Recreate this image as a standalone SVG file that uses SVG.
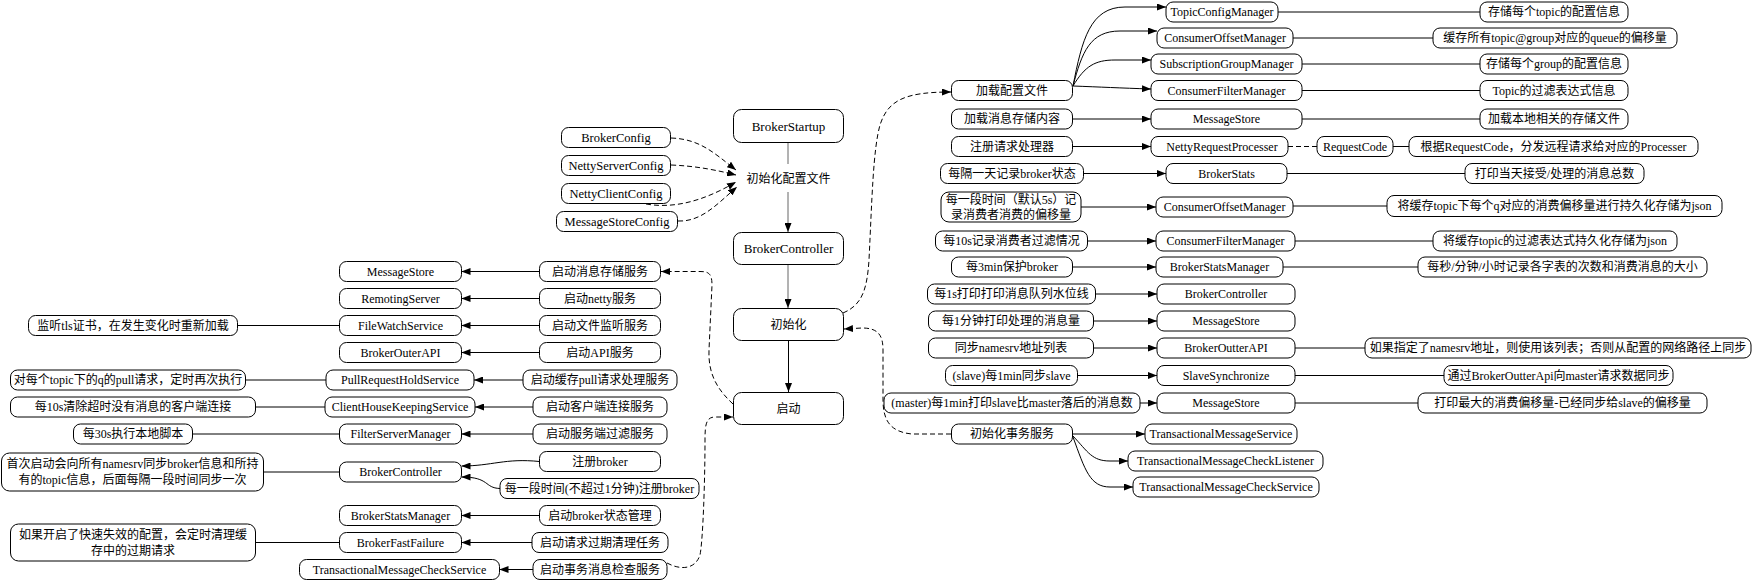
<svg xmlns="http://www.w3.org/2000/svg" width="1761" height="581" viewBox="0 0 1761 581">
<style>
rect.b{fill:#fff;stroke:#000;stroke-width:1}
text{font-family:"Liberation Serif","Noto Sans CJK SC",serif;font-size:12px;text-anchor:middle;fill:#000}
text.big{font-size:13px}
text.cfg{font-size:12.5px}
.e{fill:none;stroke:#000;stroke-width:1}
.g{stroke:#666}
.d{stroke-dasharray:5,3}
</style>
<defs>
<marker id="a" viewBox="0 0 9 7" refX="9" refY="3.5" markerWidth="9" markerHeight="7" markerUnits="userSpaceOnUse" orient="auto"><path d="M0,0 L9,3.5 L0,7 z" fill="#000"/></marker>
</defs>
<rect width="1761" height="581" fill="#fff"/>
<g id="connectors">
<!-- central -->
<path class="e g" d="M788,142 L788,164"/>
<path class="e g" d="M788,192 L788,232" marker-end="url(#a)"/>
<path class="e g" d="M788,265 L788,308" marker-end="url(#a)"/>
<path class="e" d="M788.5,341 L788.5,392" marker-end="url(#a)"/>
<!-- config dashed -->
<path class="e d" d="M671,138 C700,139 714,153 736,170" marker-end="url(#a)"/>
<path class="e d" d="M671,165 C696,166 716,170 736,175" marker-end="url(#a)"/>
<path class="e d" d="M646,204 C680,210 712,196 736,182" marker-end="url(#a)"/>
<path class="e d" d="M678,221 C702,222 718,203 737,187" marker-end="url(#a)"/>
<!-- init dashed -->
<path class="e d" d="M843,313 C862,305 867,290 869,260 C872,200 873,150 880,125 C888,100 905,92 951,92" marker-end="url(#a)"/>
<path class="e d" d="M951,434 L912,434 C890,432 883,420 883,400 L883,350 C883,335 878,328 862,328 L844,329" marker-end="url(#a)"/>
<!-- start dashed -->
<path class="e d" d="M733,404 C718,390 708,375 709,350 L712,285 C712,273 708,271.5 700,271.5 L661,271.5" marker-end="url(#a)"/>
<path class="e d" d="M667,563 C680,570 695,570 700,555 C703,540 705,480 705,440 C705,425 706,417 715,417 L733,417" marker-end="url(#a)"/>
<!-- left arrows -->
<path class="e" d="M539.5,271.5 L461.5,271.5" marker-end="url(#a)"/>
<path class="e" d="M539.5,298.5 L461.5,298.5" marker-end="url(#a)"/>
<path class="e" d="M539.5,325.5 L461.5,325.5" marker-end="url(#a)"/>
<path class="e" d="M539.5,352.5 L461.5,352.5" marker-end="url(#a)"/>
<path class="e" d="M523,380 L474,380" marker-end="url(#a)"/>
<path class="e" d="M533,407 L475,407" marker-end="url(#a)"/>
<path class="e" d="M533,434 L461.5,434" marker-end="url(#a)"/>
<path class="e" d="M539.5,461.5 C505,458 492,466 461.5,466" marker-end="url(#a)"/>
<path class="e" d="M500,488.5 C484,488 490,477 461.5,477" marker-end="url(#a)"/>
<path class="e" d="M539.5,515.5 L461.5,515.5" marker-end="url(#a)"/>
<path class="e" d="M532,542.5 L461.5,542.5" marker-end="url(#a)"/>
<path class="e" d="M533,569.5 L499.5,569.5" marker-end="url(#a)"/>
<!-- far left plain -->
<path class="e" d="M237.5,325.5 L339.5,325.5"/>
<path class="e" d="M245.5,380 L326,380"/>
<path class="e" d="M255.5,407 L325,407"/>
<path class="e" d="M192.5,434 L339.5,434"/>
<path class="e" d="M263.5,472 L339.5,472"/>
<path class="e" d="M255.5,542.5 L339.5,542.5"/>
<!-- right arrows -->
<path class="e" d="M1073,86 C1082,40 1090,7 1125,7 L1166,7" marker-end="url(#a)"/>
<path class="e" d="M1073,86 C1082,52 1090,31 1120,31 L1157,31" marker-end="url(#a)"/>
<path class="e" d="M1073,86 C1085,66 1095,60 1115,60 L1151,60" marker-end="url(#a)"/>
<path class="e" d="M1073,86 C1100,87 1120,88 1151,89" marker-end="url(#a)"/>
<path class="e" d="M1072.5,119 L1151,119" marker-end="url(#a)"/>
<path class="e" d="M1072.5,146.5 L1151,146.5" marker-end="url(#a)"/>
<path class="e" d="M1083.5,173.5 L1166,173.5" marker-end="url(#a)"/>
<path class="e" d="M1081,207 L1156,207" marker-end="url(#a)"/>
<path class="e" d="M1087.5,241 L1156,241" marker-end="url(#a)"/>
<path class="e" d="M1072.5,267 L1156,267" marker-end="url(#a)"/>
<path class="e" d="M1095.5,294 L1157,294" marker-end="url(#a)"/>
<path class="e" d="M1093.5,321 L1157,321" marker-end="url(#a)"/>
<path class="e" d="M1093.5,348 L1157,348" marker-end="url(#a)"/>
<path class="e" d="M1077.5,375.5 L1157,375.5" marker-end="url(#a)"/>
<path class="e" d="M1140,403 L1157,403" marker-end="url(#a)"/>
<path class="e" d="M1072.5,434 L1145,434" marker-end="url(#a)"/>
<path class="e" d="M1073,436 C1088,452 1092,461 1110,461 L1128,461" marker-end="url(#a)"/>
<path class="e" d="M1073,437 C1085,470 1090,487 1110,487 L1133,487" marker-end="url(#a)"/>
<!-- right plain -->
<path class="e" d="M1278,12 L1480,12"/>
<path class="e" d="M1293,38 L1433,38"/>
<path class="e" d="M1302,64 L1480,64"/>
<path class="e" d="M1302,90.5 L1480,90.5"/>
<path class="e" d="M1302,119 L1480,119"/>
<path class="e d" d="M1288,146.5 L1317,146.5"/>
<path class="e" d="M1393,146.5 L1409,146.5"/>
<path class="e" d="M1287,173.5 L1465,173.5"/>
<path class="e" d="M1293,206 L1387,206"/>
<path class="e" d="M1295,241 L1433,241"/>
<path class="e" d="M1283,267 L1418,267"/>
<path class="e" d="M1295,348 L1365,348"/>
<path class="e" d="M1295,375.5 L1444,375.5"/>
<path class="e" d="M1295,403 L1418,403"/>
</g>
<!-- central nodes -->
<g id="n_startup"><rect class="b" x="733.5" y="109.5" width="110" height="33" rx="8"/><text class="big" x="788.5" y="130.5">BrokerStartup</text></g>
<g id="n_initcfg"><text x="788.5" y="183">初始化配置文件</text></g>
<g id="n_controller"><rect class="b" x="733.5" y="232.5" width="110" height="32" rx="8"/><text class="big" x="788.5" y="253">BrokerController</text></g>
<g id="n_init"><rect class="b" x="733.5" y="308.5" width="110" height="32" rx="8"/><text x="788.5" y="329">初始化</text></g>
<g id="n_start"><rect class="b" x="733.5" y="392.5" width="110" height="32" rx="8"/><text x="788.5" y="413">启动</text></g>
<!-- config nodes -->
<g id="n_brokerconfig"><rect class="b" x="561.5" y="127.5" width="109" height="20" rx="7"/><text class="cfg" x="616" y="141.5">BrokerConfig</text></g>
<g id="n_nettyserverconfig"><rect class="b" x="561.5" y="155.5" width="109" height="20" rx="7"/><text class="cfg" x="616" y="169.5">NettyServerConfig</text></g>
<g id="n_nettyclientconfig"><rect class="b" x="561.5" y="183.5" width="109" height="20" rx="7"/><text class="cfg" x="616" y="197.5">NettyClientConfig</text></g>
<g id="n_messagestoreconfig"><rect class="b" x="556.5" y="211.5" width="121" height="20" rx="7"/><text class="cfg" x="617" y="225.5">MessageStoreConfig</text></g>
<!-- left launch column -->
<g id="s_store"><rect class="b" x="539.5" y="261.5" width="121" height="20" rx="7"/><text x="600" y="275.5">启动消息存储服务</text></g>
<g id="s_netty"><rect class="b" x="539.5" y="288.5" width="121" height="20" rx="7"/><text x="600" y="302.5">启动netty服务</text></g>
<g id="s_filewatch"><rect class="b" x="539.5" y="315.5" width="121" height="20" rx="7"/><text x="600" y="329.5">启动文件监听服务</text></g>
<g id="s_api"><rect class="b" x="539.5" y="342.5" width="121" height="20" rx="7"/><text x="600" y="356.5">启动API服务</text></g>
<g id="s_pull"><rect class="b" x="523" y="370" width="154" height="20" rx="7"/><text x="600" y="384">启动缓存pull请求处理服务</text></g>
<g id="s_client"><rect class="b" x="533" y="397" width="134" height="20" rx="7"/><text x="600" y="411">启动客户端连接服务</text></g>
<g id="s_filter"><rect class="b" x="533" y="424" width="134" height="20" rx="7"/><text x="600" y="438">启动服务端过滤服务</text></g>
<g id="s_register"><rect class="b" x="539.5" y="451.5" width="121" height="20" rx="7"/><text x="600" y="465.5">注册broker</text></g>
<g id="s_register_periodic"><rect class="b" x="500" y="478.5" width="199" height="20" rx="7"/><text x="599.5" y="492.5">每一段时间(不超过1分钟)注册broker</text></g>
<g id="s_stats"><rect class="b" x="539.5" y="505.5" width="121" height="20" rx="7"/><text x="600" y="519.5">启动broker状态管理</text></g>
<g id="s_fastfail"><rect class="b" x="532" y="532.5" width="136" height="20" rx="7"/><text x="600" y="546.5">启动请求过期清理任务</text></g>
<g id="s_trans"><rect class="b" x="533" y="559.5" width="134" height="20" rx="7"/><text x="600" y="573.5">启动事务消息检查服务</text></g>
<!-- left services -->
<g id="l_messagestore"><rect class="b" x="339.5" y="261.5" width="122" height="20" rx="7"/><text x="400.5" y="275.5">MessageStore</text></g>
<g id="l_remoting"><rect class="b" x="339.5" y="288.5" width="122" height="20" rx="7"/><text x="400.5" y="302.5">RemotingServer</text></g>
<g id="l_filewatch"><rect class="b" x="339.5" y="315.5" width="122" height="20" rx="7"/><text x="400.5" y="329.5">FileWatchService</text></g>
<g id="l_outerapi"><rect class="b" x="339.5" y="342.5" width="122" height="20" rx="7"/><text x="400.5" y="356.5">BrokerOuterAPI</text></g>
<g id="l_pullhold"><rect class="b" x="326" y="370" width="148" height="20" rx="7"/><text x="400" y="384">PullRequestHoldService</text></g>
<g id="l_clienthk"><rect class="b" x="325" y="397" width="150" height="20" rx="7"/><text x="400" y="411">ClientHouseKeepingService</text></g>
<g id="l_filterserver"><rect class="b" x="339.5" y="424" width="122" height="20" rx="7"/><text x="400.5" y="438">FilterServerManager</text></g>
<g id="l_controller"><rect class="b" x="339.5" y="462" width="122" height="20" rx="7"/><text x="400.5" y="476">BrokerController</text></g>
<g id="l_statsmgr"><rect class="b" x="339.5" y="505.5" width="122" height="20" rx="7"/><text x="400.5" y="519.5">BrokerStatsManager</text></g>
<g id="l_fastfail"><rect class="b" x="339.5" y="532.5" width="122" height="20" rx="7"/><text x="400.5" y="546.5">BrokerFastFailure</text></g>
<g id="l_transcheck"><rect class="b" x="299.5" y="559.5" width="200" height="20" rx="7"/><text x="399.5" y="573.5">TransactionalMessageCheckService</text></g>
<!-- far left descriptions -->
<g id="d_tls"><rect class="b" x="28.5" y="315.5" width="209" height="20" rx="7"/><text x="133" y="329.5">监听tls证书，在发生变化时重新加载</text></g>
<g id="d_pull"><rect class="b" x="10.5" y="370" width="235" height="20" rx="7"/><text x="128" y="384">对每个topic下的q的pull请求，定时再次执行</text></g>
<g id="d_client"><rect class="b" x="10.5" y="397" width="245" height="20" rx="7"/><text x="133" y="411">每10s清除超时没有消息的客户端连接</text></g>
<g id="d_script"><rect class="b" x="73.5" y="424" width="119" height="20" rx="7"/><text x="133" y="438">每30s执行本地脚本</text></g>
<g id="d_register"><rect class="b" x="1.5" y="453" width="262" height="38" rx="8"/><text x="132.5" y="468">首次启动会向所有namesrv同步broker信息和所持</text><text x="132.5" y="484">有的topic信息，后面每隔一段时间同步一次</text></g>
<g id="d_fastfail"><rect class="b" x="10.5" y="524" width="245" height="37" rx="8"/><text x="133" y="538.5">如果开启了快速失效的配置，会定时清理缓</text><text x="133" y="554.5">存中的过期请求</text></g>
<!-- right task column -->
<g id="t_loadcfg"><rect class="b" x="951.5" y="80.5" width="121" height="20" rx="7"/><text x="1012" y="94.5">加载配置文件</text></g>
<g id="t_loadstore"><rect class="b" x="951.5" y="109" width="121" height="20" rx="7"/><text x="1012" y="123">加载消息存储内容</text></g>
<g id="t_regproc"><rect class="b" x="951.5" y="136.5" width="121" height="20" rx="7"/><text x="1012" y="150.5">注册请求处理器</text></g>
<g id="t_daily"><rect class="b" x="940.5" y="163.5" width="143" height="20" rx="7"/><text x="1012" y="177.5">每隔一天记录broker状态</text></g>
<g id="t_offset"><rect class="b" x="941" y="192" width="140" height="30" rx="8"/><text x="1011" y="203.5">每一段时间（默认5s）记</text><text x="1011" y="218.5">录消费者消费的偏移量</text></g>
<g id="t_filter10s"><rect class="b" x="935.5" y="231" width="152" height="20" rx="7"/><text x="1011.5" y="245">每10s记录消费者过滤情况</text></g>
<g id="t_protect"><rect class="b" x="951.5" y="257" width="121" height="20" rx="7"/><text x="1012" y="271">每3min保护broker</text></g>
<g id="t_water"><rect class="b" x="927.5" y="284" width="168" height="20" rx="7"/><text x="1011.5" y="298">每1s打印打印消息队列水位线</text></g>
<g id="t_msgcount"><rect class="b" x="928.5" y="311" width="165" height="20" rx="7"/><text x="1011" y="325">每1分钟打印处理的消息量</text></g>
<g id="t_namesrv"><rect class="b" x="928.5" y="338" width="165" height="20" rx="7"/><text x="1011" y="352">同步namesrv地址列表</text></g>
<g id="t_slave"><rect class="b" x="945.5" y="365.5" width="132" height="20" rx="7"/><text x="1011.5" y="379.5">(slave)每1min同步slave</text></g>
<g id="t_master"><rect class="b" x="884" y="393" width="256" height="20" rx="7"/><text x="1012" y="407">(master)每1min打印slave比master落后的消息数</text></g>
<g id="t_trans"><rect class="b" x="951.5" y="424" width="121" height="20" rx="7"/><text x="1012" y="438">初始化事务服务</text></g>
<!-- right service column -->
<g id="r_topiccfg"><rect class="b" x="1166" y="2" width="112" height="20" rx="7"/><text x="1222" y="16">TopicConfigManager</text></g>
<g id="r_offset1"><rect class="b" x="1157" y="28" width="136" height="20" rx="7"/><text x="1225" y="42">ConsumerOffsetManager</text></g>
<g id="r_subgroup"><rect class="b" x="1151" y="54" width="151" height="20" rx="7"/><text x="1226.5" y="68">SubscriptionGroupManager</text></g>
<g id="r_filter1"><rect class="b" x="1151" y="80.5" width="151" height="20" rx="7"/><text x="1226.5" y="94.5">ConsumerFilterManager</text></g>
<g id="r_store1"><rect class="b" x="1151" y="109" width="151" height="20" rx="7"/><text x="1226.5" y="123">MessageStore</text></g>
<g id="r_netty"><rect class="b" x="1151" y="136.5" width="137" height="20" rx="7"/><text x="1222" y="150.5">NettyRequestProcesser</text></g>
<g id="r_stats"><rect class="b" x="1166" y="163.5" width="121" height="20" rx="7"/><text x="1226.5" y="177.5">BrokerStats</text></g>
<g id="r_offset2"><rect class="b" x="1156" y="197" width="137" height="20" rx="7"/><text x="1224.5" y="211">ConsumerOffsetManager</text></g>
<g id="r_filter2"><rect class="b" x="1156" y="231" width="139" height="20" rx="7"/><text x="1225.5" y="245">ConsumerFilterManager</text></g>
<g id="r_statsmgr"><rect class="b" x="1156" y="257" width="127" height="20" rx="7"/><text x="1219.5" y="271">BrokerStatsManager</text></g>
<g id="r_controller"><rect class="b" x="1157" y="284" width="138" height="20" rx="7"/><text x="1226" y="298">BrokerController</text></g>
<g id="r_store2"><rect class="b" x="1157" y="311" width="138" height="20" rx="7"/><text x="1226" y="325">MessageStore</text></g>
<g id="r_outterapi"><rect class="b" x="1157" y="338" width="138" height="20" rx="7"/><text x="1226" y="352">BrokerOutterAPI</text></g>
<g id="r_slavesync"><rect class="b" x="1157" y="365.5" width="138" height="20" rx="7"/><text x="1226" y="379.5">SlaveSynchronize</text></g>
<g id="r_store3"><rect class="b" x="1157" y="393" width="138" height="20" rx="7"/><text x="1226" y="407">MessageStore</text></g>
<g id="r_tms"><rect class="b" x="1145" y="424" width="152" height="20" rx="7"/><text x="1221" y="438">TransactionalMessageService</text></g>
<g id="r_tmcl"><rect class="b" x="1128" y="451" width="195" height="20" rx="7"/><text x="1225.5" y="465">TransactionalMessageCheckListener</text></g>
<g id="r_tmcs"><rect class="b" x="1133" y="477" width="186" height="20" rx="7"/><text x="1226" y="491">TransactionalMessageCheckService</text></g>
<!-- right descriptions -->
<g id="x_topiccfg"><rect class="b" x="1480" y="2" width="148" height="20" rx="7"/><text x="1554" y="16">存储每个topic的配置信息</text></g>
<g id="x_offset1"><rect class="b" x="1433" y="28" width="244" height="20" rx="7"/><text x="1555" y="42">缓存所有topic@group对应的queue的偏移量</text></g>
<g id="x_subgroup"><rect class="b" x="1480" y="54" width="148" height="20" rx="7"/><text x="1554" y="68">存储每个group的配置信息</text></g>
<g id="x_filter1"><rect class="b" x="1480" y="80.5" width="148" height="20" rx="7"/><text x="1554" y="94.5">Topic的过滤表达式信息</text></g>
<g id="x_store1"><rect class="b" x="1480" y="109" width="148" height="20" rx="7"/><text x="1554" y="123">加载本地相关的存储文件</text></g>
<g id="x_requestcode"><rect class="b" x="1317" y="136.5" width="76" height="20" rx="7"/><text x="1355" y="150.5">RequestCode</text></g>
<g id="x_dispatch"><rect class="b" x="1409" y="136.5" width="289" height="20" rx="7"/><text x="1553.5" y="150.5">根据RequestCode，分发远程请求给对应的Processer</text></g>
<g id="x_stats"><rect class="b" x="1465" y="163.5" width="179" height="20" rx="7"/><text x="1554.5" y="177.5">打印当天接受/处理的消息总数</text></g>
<g id="x_offset2"><rect class="b" x="1387" y="195.5" width="335" height="21" rx="7"/><text x="1554.5" y="210">将缓存topic下每个q对应的消费偏移量进行持久化存储为json</text></g>
<g id="x_filter2"><rect class="b" x="1433" y="231" width="244" height="20" rx="7"/><text x="1555" y="245">将缓存topic的过滤表达式持久化存储为json</text></g>
<g id="x_statsmgr"><rect class="b" x="1418" y="257" width="289" height="20" rx="7"/><text x="1562.5" y="271">每秒/分钟/小时记录各字表的次数和消费消息的大小</text></g>
<g id="x_namesrv"><rect class="b" x="1365" y="338" width="386" height="20" rx="7"/><text x="1558" y="352">如果指定了namesrv地址，则使用该列表；否则从配置的网络路径上同步</text></g>
<g id="x_slavesync"><rect class="b" x="1444" y="365.5" width="229" height="20" rx="7"/><text x="1558.5" y="379.5">通过BrokerOutterApi向master请求数据同步</text></g>
<g id="x_store3"><rect class="b" x="1418" y="393" width="289" height="20" rx="7"/><text x="1562.5" y="407">打印最大的消费偏移量-已经同步给slave的偏移量</text></g>
</svg>
